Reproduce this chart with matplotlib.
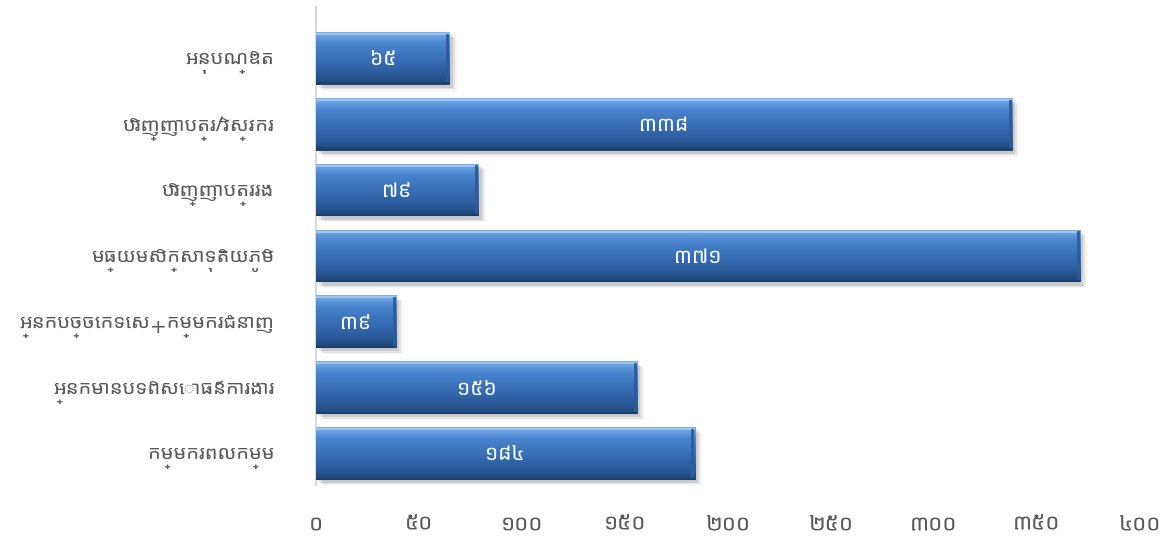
import numpy as np
import matplotlib
matplotlib.use("Agg")
import matplotlib.pyplot as plt
import matplotlib.transforms as mtransforms
from matplotlib.colors import LinearSegmentedColormap

# Khmer glyphs come from Noto Sans Khmer UI, the rest falls back to DejaVu
plt.rcParams["font.family"] = ["Noto Sans Khmer UI", "DejaVu Sans"]

TEXT_COLOR = "#595959"

# --- data ---
categories = [
    "អនុបណ្ឌិត",
    "បរិញ្ញាបត្រ/វិស្វករ",
    "បរិញ្ញាបត្ររង",
    "មធ្យមសិក្សាទុតិយភូមិ",
    "អ្នកបច្ចេកទេស+កម្មករជំនាញ",
    "អ្នកមានបទពិសោធន៍ការងារ",
    "កម្មករពលកម្ម",
]
values = [65, 338, 79, 371, 39, 156, 184]
value_labels = ["៦៥", "៣៣៨", "៧៩", "៣៧១", "៣៩", "១៥៦", "១៨៤"]
x_ticks = [0, 50, 100, 150, 200, 250, 300, 350, 400]
x_tick_labels = ["០", "៥០", "១០០", "១៥០", "២០០", "២៥០", "៣០០", "៣៥០", "៤០០"]

BAR_H = 0.8
bar_cmap = LinearSegmentedColormap.from_list(
    "bevel", ["#7DB0EA", "#4B86D0", "#3D77C0", "#3469AF", "#2A5A98", "#1E4678"], N=256
)

fig = plt.figure(figsize=(11.74, 5.42), dpi=100)
ax = fig.add_axes([0.269, 0.105, 0.702, 0.882])

y = np.arange(len(categories))

for i, v in enumerate(values):
    top = y[i] - BAR_H / 2
    # drop shadow
    for k, a in enumerate([0.10, 0.07, 0.04]):
        off = 0.03 + k * 0.02
        ax.add_patch(plt.Rectangle((1.5 + k, top + off + 0.02), v, BAR_H,
                                   facecolor="#000000", alpha=a, lw=0, zorder=1))
    bar = ax.barh(y[i], v, height=BAR_H, color="#3D77C0", lw=0, zorder=2)[0]
    grad = np.linspace(0, 1, 64).reshape(-1, 1)
    im = ax.imshow(grad, cmap=bar_cmap, aspect="auto", zorder=3,
                   extent=[0, v, y[i] + BAR_H / 2, top], interpolation="bicubic")
    im.set_clip_path(bar)
    # bevel edges
    ax.plot([0, v], [top + 0.03, top + 0.03], color="#9CC4F2", lw=1.5, zorder=4,
            solid_capstyle="butt")
    ax.plot([v - 1.2, v - 1.2], [top + 0.04, y[i] + BAR_H / 2 - 0.04], color="#2C5C9C",
            lw=2, zorder=4)
    ax.plot([0, v], [y[i] + BAR_H / 2 - 0.02, y[i] + BAR_H / 2 - 0.02], color="#1D3F6C",
            lw=1.5, zorder=4, solid_capstyle="butt")
    ax.text(v / 2, y[i] + 0.09, value_labels[i], ha="center", va="center", color="white",
            fontsize=15, fontweight="light", zorder=5)

ax.set_xlim(0, 400)
ax.set_ylim(6.48, -0.78)
ax.set_xticks(x_ticks)
ax.set_xticklabels(x_tick_labels, fontsize=16, color=TEXT_COLOR)
ax.set_yticks(y)
ax.set_yticklabels(categories, fontsize=14.5, color=TEXT_COLOR)
ax.tick_params(axis="both", length=0)
ax.tick_params(axis="x", pad=25)
ax.tick_params(axis="y", pad=30)

# the Khmer font sits high in its line box, nudge labels down a little
shift = mtransforms.ScaledTranslation(0, -1.5 / 72, fig.dpi_scale_trans)
for lab in ax.get_yticklabels():
    lab.set_transform(lab.get_transform() + shift)

for s in ["top", "right", "bottom"]:
    ax.spines[s].set_visible(False)
ax.spines["left"].set_color("#D9D9D9")
ax.spines["left"].set_linewidth(1.5)

fig.savefig("out.png", dpi=100, facecolor="white")
